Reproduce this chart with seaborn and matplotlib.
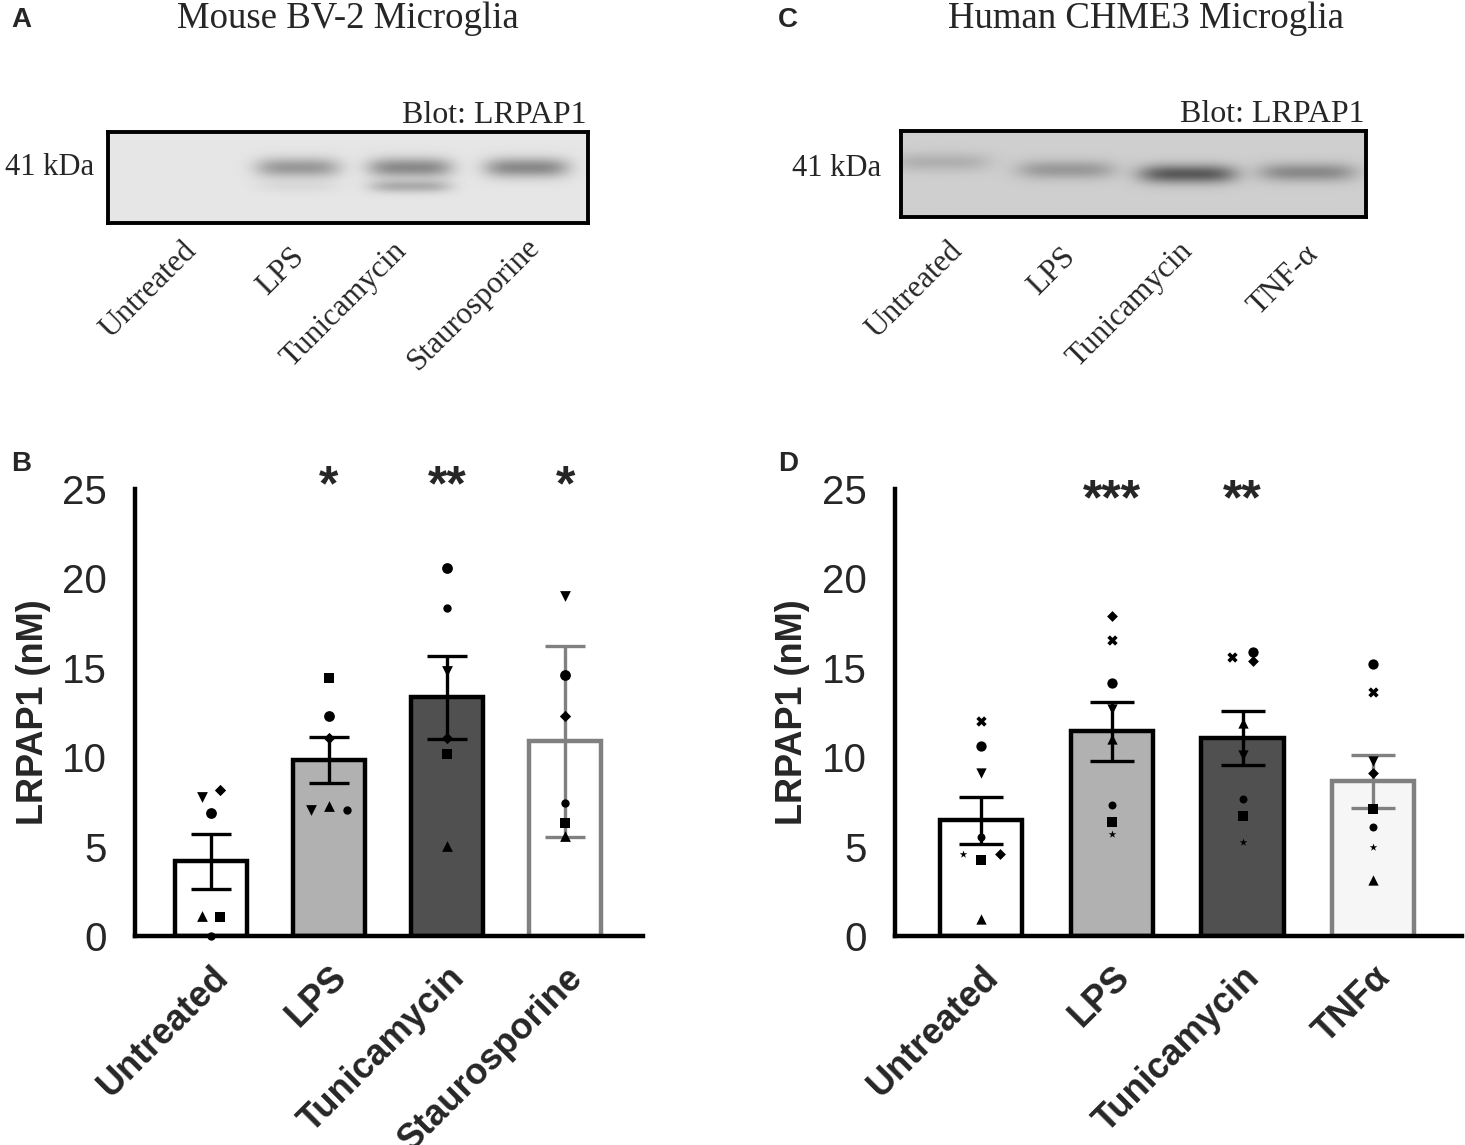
import numpy as np
import pandas as pd
import matplotlib.pyplot as plt
import seaborn as sns

sns.set_style('white')
plt.rcParams['font.family'] = ['Liberation Sans', 'DejaVu Sans']

# ---- panel B: mouse BV-2, one value per replicate (marker = replicate)
mouse_groups = ['Untreated', 'LPS', 'Tunicamycin', 'Staurosporine']
mouse_reps = ['o', 'h', 's', '^', 'v', 'D']
mouse_untreated = [6.87, 0.0, 1.09, 1.12, 7.77, 8.18]
mouse_lps = [12.32, 7.06, 14.42, 7.25, 7.02, 11.05]
mouse_tunica = [20.58, 18.35, 10.2, 5.06, 14.8, 11.05]
mouse_stauro = [14.57, 7.43, 6.31, 5.62, 19.04, 12.32]
mouse_err = ['se', 'se', 'se', 'sd']
mouse_stars = ['', '*', '**', '*']

# ---- panel D: human CHME3
human_groups = ['Untreated', 'LPS', 'Tunicamycin', 'TNFα']
human_reps = ['X', 'o', 'v', 'h', '*', 's', 'D', '^']
human_untreated = [12.02, 10.62, 9.09, 5.55, 4.61, 4.24, 4.61, 0.97]
human_lps = [16.56, 14.13, 12.68, 7.32, 5.73, 6.39, 17.87, 11.0]
human_tunica = [15.63, 15.91, 10.12, 7.69, 5.27, 6.7, 15.4, 11.93]
human_tnf = [13.67, 15.22, 9.8, 6.11, 4.99, 7.13, 9.09, 3.12]
human_err = ['se', 'se', 'se', 'se']
human_stars = ['', '***', '**', '']

# ---- blots (panels A, C): relative band darkness per lane
mouse_lanes = ['Untreated', 'LPS', 'Tunicamycin', 'Staurosporine']
mouse_band_top = [0.0, 0.3, 0.36, 0.36]
mouse_band_low = [0.0, 0.04, 0.22, 0.0]
human_lanes = ['Untreated', 'LPS', 'Tunicamycin', 'TNF-α']
human_band = [0.12, 0.21, 0.46, 0.27]

# small sideways shifts for points that would overlap
mouse_shift = {('Untreated', 'v'): -0.08, ('Untreated', 'D'): 0.08,
               ('Untreated', '^'): -0.08, ('Untreated', 's'): 0.08,
               ('LPS', 'v'): -0.15, ('LPS', 'h'): 0.15}
human_shift = {('Untreated', '*'): -0.14, ('Untreated', 'D'): 0.14,
               ('Tunicamycin', 'X'): -0.08, ('Tunicamycin', 'o'): 0.08,
               ('Tunicamycin', 'D'): 0.08}


def long_table(groups, reps, cols, shift):
    rows = []
    for i, (g, vals) in enumerate(zip(groups, cols)):
        for r, v in zip(reps, vals):
            rows.append({'group': g, 'rep': r, 'value': v,
                         'x': i + shift.get((g, r), 0.0)})
    return pd.DataFrame(rows)


mouse_df = long_table(mouse_groups, mouse_reps,
                      [mouse_untreated, mouse_lps, mouse_tunica, mouse_stauro], mouse_shift)
human_df = long_table(human_groups, human_reps,
                      [human_untreated, human_lps, human_tunica, human_tnf], human_shift)

fig = plt.figure(figsize=(14.65, 11.45), dpi=100)


def bar_panel(ax, df, groups, fills, edges, width, err, stars, star_y, msize, cap, xlim, ylab_x):
    sns.barplot(data=df, x='group', y='value', hue='group', order=groups, hue_order=groups,
                palette=fills, errorbar=None, width=width, legend=False, ax=ax, zorder=1)
    for patch, ec in zip(ax.patches, edges):
        patch.set_edgecolor(ec)
        patch.set_linewidth(3.2)
    stats = df.groupby('group')['value'].agg(['mean', 'sem', 'std']).reindex(groups)
    for i, g in enumerate(groups):
        e = stats.loc[g, 'sem'] if err[i] == 'se' else stats.loc[g, 'std']
        ax.errorbar(i, stats.loc[g, 'mean'], yerr=e, color=edges[i], elinewidth=2.4,
                    capsize=cap, capthick=2.4, zorder=3)
    shown = {'h': 'o'}
    for r, sub in df.groupby('rep'):
        sz = msize * (0.6 if r in ('*', 'h') else 1.0)
        if r == 'D':
            sz = msize * 0.55
        ax.scatter(sub['x'], sub['value'], marker=shown.get(r, r), s=sz, color='black',
                   linewidths=0, zorder=4, clip_on=False)
    for i, s in enumerate(stars):
        if s:
            ax.text(i, star_y, s, ha='center', va='center', fontsize=36,
                    fontweight='bold', clip_on=False)
    ax.set_xlim(*xlim)
    ax.set_ylim(0, 25)
    ax.set_yticks([0, 5, 10, 15, 20, 25])
    sns.despine(ax=ax)
    for sp in ('left', 'bottom'):
        ax.spines[sp].set_linewidth(3.2)
        ax.spines[sp].set_color('black')
    ax.tick_params(axis='y', length=14, width=3.2, pad=6, labelsize=29, color='black')
    ax.tick_params(axis='x', length=13, width=3.2, pad=4, labelsize=26, color='black')
    for lbl in ax.get_yticklabels():
        lbl.set_fontfamily(['Liberation Sans Narrow', 'Liberation Sans'])
    ax.set_xticks(range(len(groups)))
    ax.set_xticklabels(groups, rotation=45, ha='right', rotation_mode='anchor',
                       fontweight='bold')
    ax.set_xlabel('')
    ax.set_ylabel('LRPAP1 (nM)', fontsize=26, fontweight='bold')
    ax.yaxis.label.set_va('center')
    ax.yaxis.set_label_coords(ylab_x, 0.5)


axB = fig.add_axes([135 / 1465, 209 / 1145, 508 / 1465, 447 / 1145])
bar_panel(axB, mouse_df, mouse_groups,
          ['white', '#b1b1b1', '#505050', 'white'],
          ['black', 'black', 'black', '#808080'],
          0.61, mouse_err, mouse_stars, 25.1, 60, 14.5, (-0.644, 3.66), -0.2)

axD = fig.add_axes([895 / 1465, 209 / 1145, 567 / 1465, 447 / 1145])
bar_panel(axD, human_df, human_groups,
          ['white', '#b1b1b1', '#505050', '#f6f6f6'],
          ['black', 'black', 'black', '#808080'],
          0.63, human_err, human_stars, 24.3, 55, 16, (-0.66, 3.68), -0.18)


def draw_blot(ax, bands, bg):
    xs = np.linspace(0, 1, 480)
    ys = np.linspace(0, 1, 90)
    X, Y = np.meshgrid(xs, ys)
    img = np.full_like(X, bg)
    for cx, cy, amp, hw, hh in bands:
        img -= amp * np.exp(-((X - cx) / hw) ** 4) * np.exp(-((Y - cy) / hh) ** 2)
    ax.imshow(img, cmap='gray', vmin=0, vmax=1, extent=(0, 1, 0, 1), origin='lower',
              aspect='auto', interpolation='bilinear')
    ax.set_xticks([])
    ax.set_yticks([])
    for sp in ax.spines.values():
        sp.set_visible(True)
        sp.set_linewidth(2.8)
        sp.set_color('black')


serif = ['Liberation Serif', 'DejaVu Serif']

axA = fig.add_axes([108 / 1465, (1145 - 223) / 1145, 480 / 1465, 91 / 1145])
mouse_lane_x = [0.17, 0.396, 0.63, 0.873]
bandsA = []
for cx, top, low in zip(mouse_lane_x, mouse_band_top, mouse_band_low):
    bandsA.append((cx, 0.61, top, 0.088, 0.11))
    bandsA.append((cx, 0.40, low, 0.085, 0.07))
draw_blot(axA, bandsA, 0.9)

axC = fig.add_axes([901 / 1465, (1145 - 217) / 1145, 465 / 1465, 86 / 1145])
human_lane_x = [0.086, 0.355, 0.617, 0.875]
human_lane_y = [0.64, 0.55, 0.50, 0.52]
bandsC = [(cx, cy, a, 0.105, 0.11) for cx, cy, a in zip(human_lane_x, human_lane_y, human_band)]
draw_blot(axC, bandsC, 0.81)


def fx(px):
    return px / 1465


def fy(py):
    return 1 - py / 1145


# titles and blot annotations
fig.text(fx(348), fy(28), 'Mouse BV-2 Microglia', ha='center', va='baseline',
         fontsize=26.5, family=serif)
fig.text(fx(1146), fy(28), 'Human CHME3 Microglia', ha='center', va='baseline',
         fontsize=26.5, family=serif)
fig.text(fx(586), fy(123), 'Blot: LRPAP1', ha='right', va='baseline', fontsize=23, family=serif)
fig.text(fx(1365), fy(122), 'Blot: LRPAP1', ha='right', va='baseline', fontsize=23, family=serif)
fig.text(fx(5), fy(175), '41 kDa', ha='left', va='baseline', fontsize=22, family=serif)
fig.text(fx(792), fy(176), '41 kDa', ha='left', va='baseline', fontsize=22, family=serif)

for lab, (px, py) in zip(mouse_lanes, [(182, 236), (290, 242), (392, 236), (525, 232)]):
    fig.text(fx(px), fy(py), lab, ha='right', va='top', rotation=45,
             rotation_mode='anchor', fontsize=22.5, family=serif)
for lab, (px, py) in zip(human_lanes, [(948, 236), (1061, 242), (1178, 236), (1304, 240)]):
    fig.text(fx(px), fy(py), lab, ha='right', va='top', rotation=45,
             rotation_mode='anchor', fontsize=22.5, family=serif)

# panel letters
for lab, (px, py) in zip('ABCD', [(11, 27), (11, 471), (778, 27), (778, 471)]):
    fig.text(fx(px), fy(py), lab, ha='left', va='baseline', fontsize=20, fontweight='bold')

fig.savefig('out.png', dpi=100)
